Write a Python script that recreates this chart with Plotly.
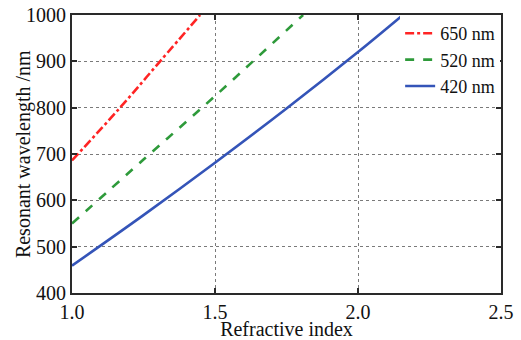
import plotly.graph_objects as go

# Data
x_650 = [1.0, 1.168, 1.308, 1.448]
y_650 = [686, 800, 900, 1000]

x_520 = [1.0, 1.25, 1.5, 1.808]
y_520 = [550, 688, 825, 1000]

x_420 = [1.0, 1.25, 1.5, 1.75, 2.0, 2.157]
y_420 = [459, 568, 681, 798, 920, 1000]

x_ticks = [1.0, 1.5, 2.0, 2.5]
x_tick_labels = ["1.0", "1.5", "2.0", "2.5"]
y_ticks = [400, 500, 600, 700, 800, 900, 1000]

FONT = "Liberation Serif"

fig = go.Figure()
fig.add_trace(go.Scatter(x=x_650, y=y_650, mode="lines", name="650 nm",
                         line=dict(color="#ff2424", width=2.6, dash="dashdot", shape="spline")))
fig.add_trace(go.Scatter(x=x_520, y=y_520, mode="lines", name="520 nm",
                         line=dict(color="#2e9a3a", width=2.6, dash="dash", shape="spline")))
fig.add_trace(go.Scatter(x=x_420, y=y_420, mode="lines", name="420 nm",
                         line=dict(color="#3454b8", width=2.6, shape="spline")))

axis_common = dict(
    showline=True, linecolor="#2a2a2a", linewidth=2, mirror="ticks",
    ticks="inside", ticklen=5, tickwidth=2, tickcolor="#2a2a2a",
    showgrid=True, gridcolor="#7a7a7a", gridwidth=1, griddash="dot",
    zeroline=False, automargin=False,
    tickfont=dict(family=FONT, size=20, color="#111"),
)

fig.update_layout(
    width=521, height=340,
    margin=dict(l=72, r=20, t=15, b=47),
    paper_bgcolor="white", plot_bgcolor="white",
    font=dict(family=FONT, size=20, color="#111"),
    xaxis=dict(range=[1.0, 2.5], tickvals=x_ticks, ticktext=x_tick_labels,
               title=dict(text="Refractive index", font=dict(family=FONT, size=20), standoff=0),
               **axis_common),
    yaxis=dict(range=[400, 1000], tickvals=y_ticks, **axis_common),
    legend=dict(x=0.998, y=1.0, xanchor="right", yanchor="top",
                bgcolor="white", borderwidth=0,
                font=dict(family=FONT, size=18, color="#111"),
                itemwidth=30, tracegroupgap=0),
    showlegend=True,
    annotations=[dict(text="Resonant wavelength /nm", textangle=-90,
                      xref="paper", yref="paper", x=-0.114, y=0.5,
                      xanchor="center", yanchor="middle", showarrow=False,
                      font=dict(family=FONT, size=20, color="#111"))],
)

fig.write_html("out.html", config={"displayModeBar": False},
               post_script="document.body.style.margin='0';document.body.style.overflow='hidden';")
